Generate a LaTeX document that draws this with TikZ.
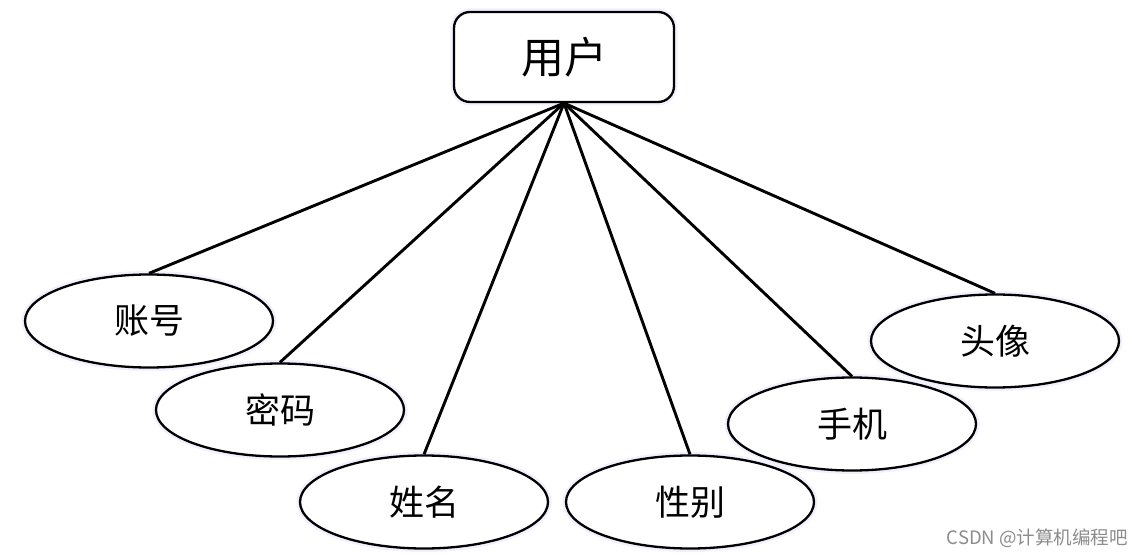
\documentclass[tikz,border=0pt]{standalone}
\usepackage{fontspec}
\setmainfont{Noto Sans CJK SC}
\newfontfamily\cjk{Noto Sans CJK SC}
\usetikzlibrary{shapes.geometric}
\begin{document}
\begin{tikzpicture}[x=1pt,y=-1pt,
  attr/.style={ellipse,draw=black,line width=2.3pt,minimum width=248pt,minimum height=93pt,inner sep=0pt,font=\cjk\fontsize{35}{35}\selectfont},
  entity/.style={rectangle,rounded corners=16pt,draw=black,line width=2.3pt,minimum width=220pt,minimum height=90pt,inner sep=0pt,font=\cjk\fontsize{43}{43}\selectfont},
  link/.style={line width=2.9pt,black},
  glow/.style={line width=7pt,draw=blue!6}]
\useasboundingbox (0,0) rectangle (1143,556);
\fill[white] (0,0) rectangle (1143,556);
% glows
\draw[glow,rounded corners=16pt] (454,12) rectangle (674,102);
\foreach \cx/\cy in {149/321,280/410,424/502,690/502,852/424,995/341}
  \draw[glow] (\cx,\cy) ellipse [x radius=124, y radius=46.5];
\node[entity,fill=white] (root) at (564,57) {用户};
\node[attr,fill=white] (a1) at (149,321) {账号};
\node[attr,fill=white] (a2) at (280,410) {密码};
\node[attr,fill=white] (a3) at (424,502) {姓名};
\node[attr,fill=white] (a4) at (690,502) {性别};
\node[attr,fill=white] (a5) at (852,424) {手机};
\node[attr,fill=white] (a6) at (995,341) {头像};
\foreach \n in {a1,a2,a3,a4,a5,a6}
  \draw[link] (root.south) -- (\n.north);
\node[anchor=east,text=black!45,font=\cjk\fontsize{18.5}{18.5}\selectfont,inner sep=0pt] (wm) at (1128,538) {CSDN @计算机编程吧};
\end{tikzpicture}
\end{document}
